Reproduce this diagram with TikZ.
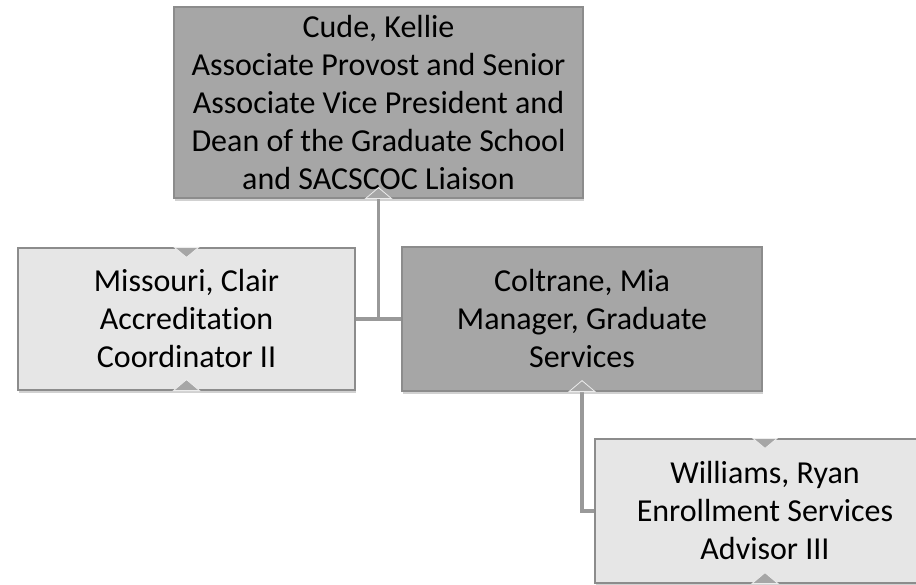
\documentclass[tikz,border=0pt]{standalone}
\usepackage{fontspec}
\setmainfont{Carlito}[Ligatures=NoCommon]
\usetikzlibrary{shadows}
\definecolor{darkbox}{HTML}{A6A6A6}
\definecolor{lightbox}{HTML}{E6E6E6}
\definecolor{edgec}{HTML}{8C8C8C}
\definecolor{linkc}{HTML}{999999}
\tikzset{
  box/.style={draw=edgec, line width=1.2pt, rectangle, align=center,
    font=\fontsize{32}{38}\selectfont, inner sep=0pt,
    drop shadow={shadow xshift=1pt, shadow yshift=-3pt, opacity=0.18, fill=black}},
  darkb/.style={box, fill=darkbox},
  lightb/.style={box, fill=lightbox},
  conn/.style={draw=linkc, line width=3.5pt},
  notch/.style={fill=darkbox, draw=white!85!gray, line width=0.8pt}
}
\begin{document}
\begin{tikzpicture}[x=1pt,y=-1pt]
\useasboundingbox (0,0) rectangle (916,585);
\node[darkb, minimum width=409pt, minimum height=191pt] (cude) at (378.5,102.5)
  {Cude, Kellie\\Associate Provost and Senior\\Associate Vice President and\\Dean of the Graduate School\\and SACSCOC Liaison};
\node[lightb, minimum width=337pt, minimum height=142pt] (miss) at (186.5,319)
  {Missouri, Clair\\Accreditation\\Coordinator II};
\node[darkb, minimum width=360pt, minimum height=144pt] (colt) at (582,319)
  {Coltrane, Mia\\Manager, Graduate\\Services};
\node[lightb, minimum width=340pt, minimum height=144pt] (will) at (765,511)
  {Williams, Ryan\\Enrollment Services\\Advisor III};
% links
\draw[conn] (miss.east) -- (colt.west);
\draw[conn] (cude.south) -- (cude.south |- miss.east);
\draw[conn] (colt.south) |- (will.west);
% notches
\foreach \n in {cude, miss, colt, will}{
  \path[notch] ([xshift=-13pt]\n.south) -- ([xshift=13pt]\n.south) -- ([yshift=11pt]\n.south) -- cycle;
}
\foreach \n in {miss, will}{
  \path[notch] ([xshift=-12pt]\n.north) -- ([xshift=12pt]\n.north) -- ([yshift=-10pt]\n.north) -- cycle;
}
\end{tikzpicture}
\end{document}
